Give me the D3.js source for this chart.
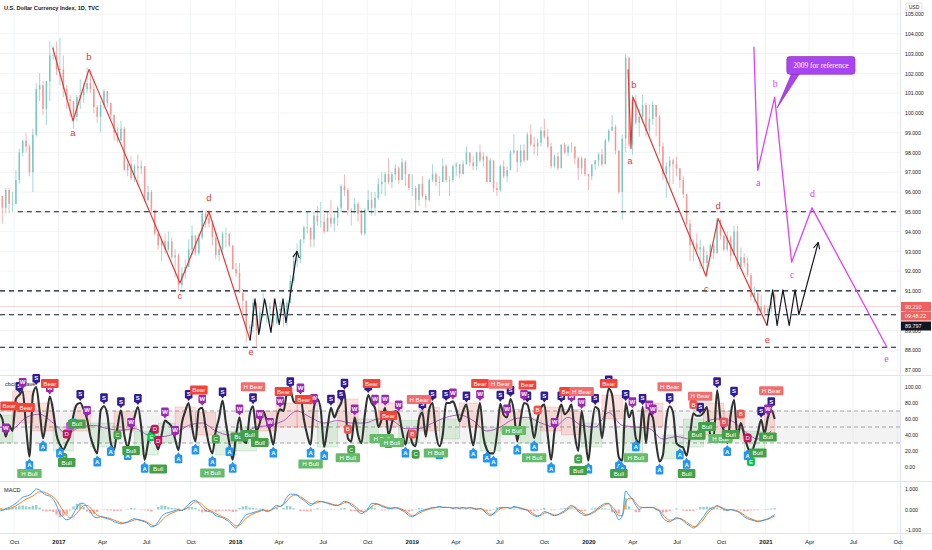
<!DOCTYPE html>
<html>
<head>
<meta charset="utf-8">
<script src="https://cdn.jsdelivr.net/npm/d3@7"></script>
<style>
body { margin: 0; background: #fff; }
svg { display: block; font-family: "Liberation Sans", Arial, sans-serif; }
</style>
</head>
<body>
<svg id="chart" width="932" height="550"></svg>
<script>
// weekly DXY bars, first bar = week ending Fri 2016-09-02
const startWeek = "2016-09-02";
const firstOpen = 95.6;
const weekClose = [
  95.8,95.2,96.1,95.4,95.4,96.6,98.0,98.6,98.3,97.0,98.9,101.2,101.4,100.2,101.6,102.9,102.9,102.2,
  102.2,101.2,100.7,100.6,99.8,100.8,100.9,101.2,101.5,101.2,100.3,99.8,100.4,101.1,100.5,99.9,99.0,98.6,99.2,97.1,97.4,96.7,97.3,97.2,97.3,95.6,96.0,95.1,93.9,93.3,93.5,93.1,93.5,92.7,92.8,91.3,91.9,92.2,93.1,93.8,92.9,93.7,94.9,94.7,94.4,93.7,92.8,93.1,93.9,93.9,93.3,92.1,
  91.9,90.9,90.5,89.1,89.2,90.4,89.0,89.9,89.9,90.1,90.2,89.4,90.0,90.1,89.8,90.4,91.5,92.5,92.6,93.6,94.2,94.2,93.6,94.8,94.5,94.5,94.0,94.7,94.4,94.7,95.2,96.3,96.1,95.1,95.1,95.4,94.9,93.9,95.1,95.6,95.2,95.7,96.4,96.5,96.9,96.5,96.9,97.2,96.6,97.5,96.9,96.2,
  96.2,95.6,96.4,95.8,95.6,96.6,96.9,96.5,96.5,97.3,96.6,96.6,97.3,97.4,96.9,97.4,98.0,97.5,97.3,98.0,97.6,97.8,96.5,97.6,96.2,96.1,97.3,96.8,97.1,98.0,98.1,97.5,98.1,97.6,98.9,98.4,98.3,98.5,99.1,98.8,98.3,97.3,97.8,97.2,98.4,98.0,98.3,98.3,97.7,97.2,97.7,96.9,
  96.8,97.4,97.6,97.9,97.4,98.6,99.1,99.3,98.1,96.0,98.7,102.8,98.4,100.6,99.5,99.8,100.4,99.1,99.7,100.4,99.8,98.3,96.9,97.3,97.6,97.4,97.2,96.6,95.9,94.4,93.3,93.4,93.1,93.2,92.4,92.8,93.3,92.9,94.6,93.8,93.1,93.7,92.8,94.0,92.2,92.7,92.4,91.8,90.7,90.9,90.0,90.2,
  89.9,90.1,90.8,90.2
];
const weekHigh = [
  96.4,95.8,96.2,96.2,96.0,97.1,98.2,98.6,99.0,98.4,99.2,101.5,102.0,101.6,101.6,103.6,103.4,103.6,
  103.8,102.9,101.4,100.9,100.6,100.9,101.7,101.5,102.3,102.2,101.7,100.4,100.6,101.2,101.0,100.5,99.8,99.3,99.6,99.3,97.6,97.8,97.4,97.9,97.6,97.3,96.3,96.1,95.1,94.1,93.7,93.9,94.0,93.7,93.1,92.9,92.2,92.6,93.6,94.3,93.8,93.9,95.1,95.0,95.1,94.5,94.0,93.5,94.0,94.2,93.9,93.3,
  92.4,92.4,91.1,90.5,89.3,90.6,90.4,90.2,90.9,90.4,90.4,90.6,90.2,90.5,90.2,90.5,91.8,92.8,93.4,93.6,94.3,95.0,94.0,95.0,95.3,95.5,94.9,95.0,95.6,94.9,95.3,96.4,96.9,96.2,95.2,95.7,95.5,95.1,95.2,96.1,96.0,96.0,96.7,97.0,97.0,97.7,97.0,97.4,97.3,97.7,97.6,96.9,
  96.9,96.3,96.4,96.8,95.9,96.7,97.4,97.0,96.8,97.7,97.4,96.8,97.4,97.5,97.4,97.6,98.3,98.0,97.8,98.0,98.4,98.0,97.8,97.7,97.6,96.5,97.4,97.6,97.3,98.1,98.9,98.1,98.4,98.4,99.0,99.4,98.8,98.7,99.3,99.7,99.2,98.5,97.9,98.0,98.4,98.5,98.4,98.5,98.3,97.8,97.8,97.7,
  96.9,97.4,97.6,98.0,98.2,98.7,99.2,99.9,99.4,98.1,98.9,103.0,102.8,100.9,100.9,100.2,100.9,100.5,100.4,100.6,100.3,99.9,98.5,97.5,97.8,97.7,97.8,97.2,96.8,95.9,94.6,93.6,93.9,93.6,93.3,93.0,93.4,93.4,94.7,94.2,93.8,94.0,93.8,94.3,94.3,93.2,92.9,92.7,91.9,91.2,90.9,90.8,
  90.3,90.2,90.9,90.9
];
const weekLow = [
  95.3,94.4,94.9,94.9,95.0,95.7,96.4,97.8,98.0,96.8,96.0,98.8,100.6,99.9,99.4,100.6,102.7,101.9,
  101.4,100.8,100.2,99.8,99.2,99.6,100.2,100.5,101.0,101.0,100.0,99.5,99.0,100.2,100.3,99.7,98.6,98.5,98.9,97.1,96.8,96.6,96.5,96.3,96.9,95.5,95.5,94.9,93.8,93.1,92.5,92.9,93.0,92.6,91.7,91.0,91.1,91.6,92.3,92.8,92.8,92.8,93.6,94.2,94.2,93.3,92.6,92.5,92.9,93.2,93.2,92.1,
  91.7,90.9,89.8,88.4,88.5,88.9,88.2,89.0,89.7,89.4,89.4,89.2,89.3,89.7,89.2,89.2,90.5,91.4,92.2,92.4,93.4,93.9,93.2,93.2,94.3,94.2,93.9,94.0,94.2,94.0,94.3,95.0,95.8,94.8,94.3,94.9,94.5,93.8,93.8,95.0,94.8,94.8,95.6,95.9,95.8,96.4,96.2,96.6,96.4,96.7,96.3,96.1,
  95.8,95.0,95.3,95.7,95.2,95.5,96.5,96.3,95.8,96.5,96.5,95.8,96.5,96.8,96.7,96.9,97.4,97.3,97.1,97.1,97.5,97.3,96.5,96.5,96.0,95.8,96.0,96.7,96.5,97.1,97.9,97.0,97.3,97.5,97.7,98.3,97.9,97.8,98.3,98.7,98.2,97.2,97.2,97.1,97.2,97.9,97.8,98.0,97.4,96.6,96.9,96.8,
  96.1,96.6,97.1,97.3,97.3,97.4,98.5,99.1,97.9,95.9,94.6,98.0,98.3,97.9,99.4,98.8,99.5,98.8,98.9,99.4,98.8,97.9,96.6,95.7,96.4,96.4,96.8,96.2,95.7,94.3,92.5,92.5,92.9,92.1,92.1,91.7,92.7,92.6,93.0,93.6,93.0,93.0,92.5,92.8,92.1,92.1,92.2,91.7,90.5,90.4,89.7,89.9,
  89.7,89.2,89.9,90.1
];

// horizontal levels drawn on the chart
const levelPrices = [95.0, 91.0, 89.797, 88.15];
const levelStarts = ["2016-10-09", "2016-08-01", "2016-08-01", "2016-08-01"];
const lastPrice = 90.21;

// wave drawings
const redWave1Dates = ["2016-12-20","2017-01-31","2017-03-05","2017-09-09","2017-11-08","2018-02-01"];
const redWave1Prices = [103.3, 99.6, 102.2, 91.4, 95.0, 88.5];
const redWave2Dates = ["2020-03-23","2020-03-29","2020-04-02","2020-08-31","2020-09-25","2021-01-04"];
const redWave2Prices = [102.2, 98.2, 100.8, 91.75, 94.65, 89.25];
const blackPath1Dates = ["2018-02-01","2018-02-11","2018-02-19","2018-03-03","2018-03-16","2018-03-24","2018-04-02","2018-04-10","2018-04-16","2018-05-09"];
const blackPath1Prices = [88.5, 90.6, 88.8, 90.6, 88.9, 90.6, 89.3, 90.6, 89.4, 93.0];
const blackPath2Dates = ["2021-01-04","2021-01-16","2021-01-25","2021-02-06","2021-02-19","2021-03-03","2021-03-11","2021-04-20"];
const blackPath2Prices = [89.25, 91.05, 89.25, 91.05, 89.25, 91.05, 89.8, 93.45];
const pinkWaveDates = ["2020-12-08","2020-12-16","2021-01-20","2021-02-24","2021-04-07","2021-09-09"];
const pinkWavePrices = [103.35, 97.1, 100.8, 92.45, 95.2, 88.15];

const waveLetters = ["a","b","c","d","e"];
const redLabel1Dates = ["2017-01-31","2017-03-05","2017-09-09","2017-11-08","2018-02-03"];
const redLabel1Prices = [98.98, 102.78, 90.7, 95.65, 87.9];
const redLabel2Dates = ["2020-03-27","2020-04-04","2020-09-01","2020-09-25","2021-01-05"];
const redLabel2Prices = [97.53, 101.41, 91.08, 95.26, 88.48];
const pinkLabelDates = ["2020-12-17","2021-01-21","2021-02-25","2021-04-08","2021-09-08"];
const pinkLabelPrices = [96.44, 101.41, 91.75, 95.85, 87.54];

const noteText = "2009 for reference";
const noteDates = ["2021-02-14", "2021-07-05", "2021-01-25"];   // box left, box right, pointer tip
const notePrices = [102.85, 101.95, 100.25];                    // box top, box bottom, pointer tip

// oscillator pane, one value per week
const osc = [67,60,38,52,45,85,90,95,50,13,90,100,70,36,60,88,70,40,28,22,30,40,65,78,80,72,60,38,25,17,
  70,76,65,30,22,50,71,40,25,45,62,75,50,9,30,48,36,22,40,58,55,50,35,21,55,70,80,50,32,72,
  74,50,28,17,45,62,83,55,30,9,40,62,35,30,65,76,45,55,70,58,45,28,60,72,70,92,96,82,80,88,
  60,40,28,75,85,71,25,50,74,62,72,80,94,36,32,62,40,30,65,90,80,74,50,60,74,40,55,70,67,45,
  28,46,30,26,60,68,38,72,80,42,26,40,80,80,82,72,57,70,78,48,27,55,80,38,22,17,17,40,79,65,
  62,85,70,32,60,80,78,60,36,60,74,78,40,9,45,65,78,66,70,78,40,20,70,40,8,50,75,72,36,70,
  98,90,50,12,8,80,62,71,36,30,75,30,67,62,30,7,15,60,76,68,30,26,24,14,40,67,64,64,68,75,
  40,38,96,60,45,30,65,84,38,55,40,25,17,28,42,59,42,62,71,60];
// purple average, every 4th week
const oscAvg = [50,48,62,66,55,42,50,52,48,46,48,40,38,42,52,55,45,40,42,50,52,58,70,62,55,58,55,55,60,58,
  48,48,55,62,65,58,45,50,60,62,55,50,62,52,50,68,52,50,48,35,38,35,55,60,58,45,35,45];
const zoneStart = [0,4,10,16,22,27,34,40,47,52,58,64,70,76,82,88,94,100,106,112,118,124,130,136,142,148,154,160,166,172,178,184,190,196,202,208,214,220,226];
const zoneEnd = [4,10,16,22,27,34,40,47,52,58,64,70,76,82,88,94,100,106,112,118,124,130,136,142,148,154,160,166,172,178,184,190,196,202,208,214,220,226,229];
const zoneLow = [30,55,45,20,45,25,45,15,30,50,40,15,20,45,50,50,25,50,30,50,30,45,35,50,20,45,30,45,40,25,60,10,50,10,25,40,35,15,40];
const zoneHigh = [65,95,80,50,75,55,70,45,55,75,68,45,50,70,80,85,55,85,60,80,58,75,60,80,50,72,60,75,72,55,90,50,80,40,60,80,70,45,70];
const zoneKind = ["g","r","r","g","r","g","r","g","g","r","r","g","g","r","r","r","g","r","g","r","g","r","g","r","g","r","g","r","r","g","r","g","r","g","g","r","r","g","r"];

const sWeeks = [6,11,24,31,36,41,56,66,75,86,98,101,102,109,125,128,132,138,148,151,156,161,166,176,180,185,190,198,207,212,217,225,228];
const wWeeks = [2,7,15,26,39,49,52,60,71,77,80,83,89,93,105,111,114,118,134,142,150,155,164,169,172,187,192,193,214,227];
const aWeeks = [9,13,18,29,33,38,43,53,58,63,68,69,81,92,96,115,120,130,140,144,146,153,158,163,174,183,184,188,195,201,203,215,221];
const bearWeeks = [3,8,15,59,75,84,90,110,115,124,142,148,156,168,172,180,198,207,228];
const bearTexts = ["Bear","Bear","Bear","Bear","H Bear","Bear","Bear","Bear","Bear","H Bear","Bear","H Bear","Bear","Bear","H Bear","Bear","H Bear","H Bear","H Bear"];
const bullWeeks = [9,20,23,39,47,63,71,74,77,92,103,113,116,129,152,158,171,183,188,203,206,209,213,216,224,227];
const bullTexts = ["H Bull","Bull","Bull","Bull","Bull","H Bull","Bull","Bull","Bull","H Bull","H Bull","H Bull","H Bull","H Bull","H Bull","H Bull","Bull","Bull","H Bull","Bull","Bull","Bull","H Bull","Bull","Bull","Bull"];
const letterWeeks = [19,20,21,22,35,45,46,47,64,103,104,122,123,159,171,205,214,219,221,222];
const letterTexts = ["C","D","F","G","C","E","D","D","C","B","C","B","C","B","C","B","B","B","D","E"];

// MACD pane, one value per week
const macd = [0,-0.05,0.05,0.1,0.2,0.3,0.45,0.6,0.65,0.7,0.85,1.0,0.95,0.8,0.7,0.65,0.5,0.2,-0.2,-0.4,
  -0.5,-0.45,-0.2,0.1,0.3,0.3,0.1,-0.1,-0.35,-0.4,-0.35,-0.4,-0.45,-0.5,-0.6,-0.65,-0.7,-0.65,-0.6,-0.5,
  -0.45,-0.5,-0.55,-0.6,-0.7,-0.85,-0.8,-0.6,-0.35,-0.2,-0.15,-0.1,-0.05,0,-0.05,0.1,0.25,0.4,0.45,0.3,
  0.1,-0.05,-0.1,-0.15,-0.3,-0.35,-0.4,-0.5,-0.6,-0.8,-0.9,-0.7,-0.45,-0.25,-0.2,-0.15,-0.1,-0.05,0,-0.1,
  -0.05,0.1,0.2,0.15,0.3,0.6,0.75,0.75,0.7,0.55,0.45,0.3,0.2,0.3,0.4,0.4,0.35,0.3,0.25,0.2,
  0.2,0.3,0.4,0.35,0.2,0.1,-0.1,-0.2,-0.1,0.05,0.3,0.3,0.25,0.15,0.1,0.05,0.05,0.1,0.05,-0.05,
  -0.15,-0.3,-0.35,-0.25,-0.1,-0.05,0,0.05,0.1,0.1,0.15,0.1,0.1,0.1,0.05,0.1,0.05,0.1,0.05,0.1,
  0.05,0,0.05,-0.05,-0.2,-0.3,-0.2,0,0.1,0.1,0.1,0.05,0.15,0.1,0.05,0,-0.05,-0.2,-0.3,-0.35,
  -0.25,-0.1,-0.15,-0.25,-0.3,-0.25,-0.15,-0.05,0.1,0.2,0.1,-0.1,-0.2,-0.3,-0.25,-0.15,-0.05,0.1,0.2,0.3,
  0.3,0,-0.2,-0.5,-0.3,0.9,0.7,0.5,0.2,0,0.1,0.1,0.1,0.1,0,-0.1,-0.4,-0.55,-0.6,-0.5,
  -0.4,-0.45,-0.55,-0.7,-0.8,-0.9,-0.8,-0.55,-0.35,-0.1,0.05,0.1,0.2,0.1,0,-0.05,0,-0.05,-0.1,-0.2,
  -0.35,-0.45,-0.5,-0.55,-0.6,-0.55,-0.5,-0.45,-0.35,-0.25];
const macdSignal = [0.05,0.02,0,0.03,0.1,0.18,0.28,0.4,0.5,0.58,0.66,0.78,0.86,0.86,0.8,0.72,0.62,0.45,0.18,-0.08,
  -0.28,-0.4,-0.35,-0.18,0.02,0.18,0.2,0.08,-0.12,-0.28,-0.34,-0.37,-0.4,-0.45,-0.52,-0.58,-0.64,-0.66,-0.63,-0.57,
  -0.51,-0.49,-0.52,-0.56,-0.64,-0.75,-0.79,-0.72,-0.55,-0.38,-0.26,-0.18,-0.11,-0.05,-0.04,0.02,0.13,0.27,0.37,0.36,
  0.24,0.08,-0.03,-0.1,-0.2,-0.28,-0.35,-0.43,-0.53,-0.68,-0.8,-0.77,-0.6,-0.42,-0.3,-0.22,-0.15,-0.09,-0.04,-0.06,
  -0.06,0.03,0.12,0.15,0.23,0.42,0.6,0.69,0.71,0.62,0.52,0.4,0.29,0.28,0.34,0.38,0.37,0.33,0.28,0.23,
  0.21,0.25,0.33,0.35,0.28,0.18,0.03,-0.1,-0.12,-0.03,0.15,0.24,0.26,0.2,0.14,0.09,0.07,0.08,0.07,0.01,
  -0.08,-0.2,-0.29,-0.28,-0.18,-0.1,-0.04,0.02,0.07,0.09,0.12,0.11,0.1,0.1,0.07,0.08,0.07,0.08,0.07,0.08,
  0.07,0.03,0.04,0,-0.12,-0.23,-0.22,-0.1,0.04,0.08,0.09,0.07,0.11,0.11,0.08,0.03,-0.02,-0.12,-0.23,-0.3,
  -0.28,-0.18,-0.16,-0.21,-0.27,-0.26,-0.2,-0.11,0.02,0.13,0.12,0,-0.12,-0.23,-0.25,-0.2,-0.11,0.03,0.14,0.24,
  0.28,0.14,-0.05,-0.3,-0.3,0.35,0.55,0.53,0.33,0.13,0.1,0.1,0.1,0.1,0.04,-0.04,-0.25,-0.42,-0.52,-0.51,
  -0.45,-0.44,-0.5,-0.62,-0.73,-0.83,-0.82,-0.67,-0.48,-0.24,-0.05,0.06,0.14,0.12,0.05,-0.01,-0.01,-0.03,-0.07,-0.15,
  -0.27,-0.38,-0.45,-0.51,-0.56,-0.56,-0.52,-0.48,-0.4,-0.31];

const priceTicks = d3.range(87, 106, 1);
const oscTicks = [0, 20, 40, 60, 80, 100];
const macdTicks = [-1, 0, 1];

// ---------------------------------------------------------------
const svg = d3.select("#chart");
const axisX = 900;
const DAY = 864e5;
const week0 = new Date(startWeek).getTime();

const x = d3.scaleUtc()
  .domain([new Date("2017-01-01"), new Date("2021-01-01")])
  .range([58.5, 765.5]);
const y = d3.scaleLinear().domain([87, 105]).range([370, 14]);
const yOsc = d3.scaleLinear().domain([0, 100]).range([467, 387]);
const yMacd = d3.scaleLinear().domain([-1, 1]).range([530, 489]);

const weekX = i => x(new Date(week0 + (i * 7 - 2) * DAY));
const dx = s => x(new Date(s));

const defs = svg.append("defs");
defs.append("clipPath").attr("id", "clipMain").append("rect").attr("x", 0).attr("y", 0).attr("width", axisX).attr("height", 373);
defs.append("clipPath").attr("id", "clipOsc").append("rect").attr("x", 0).attr("y", 377).attr("width", axisX).attr("height", 104);
defs.append("clipPath").attr("id", "clipMacd").append("rect").attr("x", 0).attr("y", 482).attr("width", axisX).attr("height", 51);
defs.append("marker").attr("id", "arrow")
  .attr("viewBox", "0 0 10 10").attr("refX", 9).attr("refY", 5)
  .attr("markerWidth", 8).attr("markerHeight", 8)
  .attr("markerUnits", "userSpaceOnUse").attr("orient", "auto")
  .append("path").attr("d", "M1,1 L9,5 L1,9")
  .attr("fill", "none").attr("stroke", "#131722").attr("stroke-width", 1.4);

// grid
const timeTicks = d3.utcMonth.every(3).range(new Date("2016-10-01"), new Date("2021-10-02"));
const grid = svg.append("g").attr("stroke", "#f3f4f8").attr("stroke-width", 1);
timeTicks.forEach(t => {
  grid.append("line").attr("x1", x(t)).attr("x2", x(t)).attr("y1", 0).attr("y2", 533);
});
priceTicks.forEach(p => {
  grid.append("line").attr("x1", 0).attr("x2", axisX).attr("y1", y(p)).attr("y2", y(p));
});

// pane borders
const borders = svg.append("g").attr("stroke", "#e0e3eb").attr("stroke-width", 1);
[375.5, 481.5, 533.5].forEach(v => borders.append("line").attr("x1", 0).attr("x2", 932).attr("y1", v).attr("y2", v));
borders.append("line").attr("x1", axisX + 0.5).attr("x2", axisX + 0.5).attr("y1", 0).attr("y2", 550);

// title
svg.append("text").attr("x", 4).attr("y", 10)
  .attr("font-size", 5.6).attr("font-weight", 700).attr("fill", "#131722")
  .text("U.S. Dollar Currency Index, 1D, TVC");

// ---------------- main pane ----------------
const main = svg.append("g").attr("clip-path", "url(#clipMain)");

// last price line
main.append("line").attr("x1", 0).attr("x2", axisX)
  .attr("y1", y(lastPrice)).attr("y2", y(lastPrice))
  .attr("stroke", "#ef5350").attr("stroke-opacity", 0.3).attr("stroke-width", 0.8);

// candles
const bars = weekClose.map((c, i) => {
  const o = i ? weekClose[i - 1] : firstOpen;
  return { i, o, c, h: Math.max(weekHigh[i], o, c), l: Math.min(weekLow[i], o, c) };
});
const candle = main.append("g").selectAll("g").data(bars).join("g")
  .attr("opacity", 0.6)
  .attr("stroke", d => d.c >= d.o ? "#26a69a" : "#ef5350")
  .attr("fill", d => d.c >= d.o ? "#26a69a" : "#ef5350");
candle.append("line")
  .attr("x1", d => weekX(d.i)).attr("x2", d => weekX(d.i))
  .attr("y1", d => y(d.h)).attr("y2", d => y(d.l))
  .attr("stroke-width", 0.7);
candle.append("rect")
  .attr("x", d => weekX(d.i) - 0.75).attr("width", 1.5)
  .attr("y", d => y(Math.max(d.o, d.c)))
  .attr("height", d => Math.max(0.6, Math.abs(y(d.o) - y(d.c))))
  .attr("stroke", "none");

// dashed levels
levelPrices.forEach((p, k) => {
  main.append("line")
    .attr("x1", Math.max(0, dx(levelStarts[k]))).attr("x2", axisX)
    .attr("y1", y(p)).attr("y2", y(p))
    .attr("stroke", "#131722").attr("stroke-width", 1.1).attr("stroke-dasharray", "5,4");
});

const line = d3.line().x(d => dx(d[0])).y(d => y(d[1]));
function drawPath(dates, prices, color, width, arrow) {
  const p = main.append("path")
    .datum(dates.map((d, k) => [d, prices[k]]))
    .attr("d", line).attr("fill", "none")
    .attr("stroke", color).attr("stroke-width", width).attr("stroke-linejoin", "round");
  if (arrow) p.attr("marker-end", "url(#arrow)");
}
drawPath(redWave1Dates, redWave1Prices, "#e53935", 1.2, false);
drawPath(redWave2Dates, redWave2Prices, "#e53935", 1.2, false);
drawPath(blackPath1Dates, blackPath1Prices, "#131722", 1.2, true);
drawPath(blackPath2Dates, blackPath2Prices, "#131722", 1.2, true);
drawPath(pinkWaveDates, pinkWavePrices, "#e040fb", 1.3, false);

function drawLabels(dates, prices, color, family, size) {
  main.append("g").selectAll("text").data(waveLetters).join("text")
    .attr("x", (d, k) => dx(dates[k])).attr("y", (d, k) => y(prices[k]))
    .attr("text-anchor", "middle").attr("dominant-baseline", "middle")
    .attr("font-family", family).attr("font-size", size).attr("fill", color)
    .text(d => d);
}
drawLabels(redLabel1Dates, redLabel1Prices, "#e53935", "Liberation Sans, Arial, sans-serif", 9.5);
drawLabels(redLabel2Dates, redLabel2Prices, "#e53935", "Liberation Sans, Arial, sans-serif", 9.5);
drawLabels(pinkLabelDates, pinkLabelPrices, "#e040fb", "Liberation Serif, Times New Roman, serif", 10);

// callout
const bx0 = dx(noteDates[0]), bx1 = dx(noteDates[1]);
const by0 = y(notePrices[0]), by1 = y(notePrices[1]);
main.append("path")
  .attr("d", `M${bx0 + 5},${by1 - 1} L${bx0 + 13},${by1 - 1} L${dx(noteDates[2])},${y(notePrices[2])} Z`)
  .attr("fill", "#a845f2").attr("stroke", "#8e24aa").attr("stroke-width", 0.6);
main.append("rect").attr("x", bx0).attr("y", by0).attr("width", bx1 - bx0).attr("height", by1 - by0)
  .attr("rx", 3).attr("fill", "#a845f2").attr("stroke", "#8e24aa").attr("stroke-width", 0.6);
main.append("text").attr("x", (bx0 + bx1) / 2).attr("y", (by0 + by1) / 2 + 0.5)
  .attr("text-anchor", "middle").attr("dominant-baseline", "middle")
  .attr("font-family", "Liberation Serif, Times New Roman, serif").attr("font-size", 7.5)
  .attr("fill", "#fff").text(noteText);

// price axis
const pAxis = svg.append("g").attr("transform", `translate(${axisX + 4},0)`)
  .call(d3.axisRight(y).tickValues(priceTicks).tickFormat(d3.format(".3f")).tickSize(0).tickPadding(1));
pAxis.select(".domain").remove();
pAxis.selectAll("text").attr("font-size", 5.2).attr("fill", "#131722").attr("font-family", "Liberation Sans, Arial, sans-serif");

svg.append("rect").attr("x", 906).attr("y", 3).attr("width", 16).attr("height", 8).attr("rx", 1.5)
  .attr("fill", "#fff").attr("stroke", "#c9ccd6").attr("stroke-width", 0.6);
svg.append("text").attr("x", 914).attr("y", 9).attr("text-anchor", "middle")
  .attr("font-size", 5).attr("fill", "#131722").text("USD");

// price tags
const tags = [
  { t: d3.format(".3f")(lastPrice), c: "#f0605d", dy: 0 },
  { t: "09:48:22", c: "#f0605d", dy: 9.5 },
  { t: d3.format(".3f")(levelPrices[2]), c: "#131722", dy: 19.5 }
];
tags.forEach(tg => {
  const yy = y(lastPrice) + tg.dy;
  svg.append("rect").attr("x", axisX + 1).attr("y", yy - 4.5).attr("width", 30).attr("height", 9).attr("fill", tg.c);
  svg.append("text").attr("x", axisX + 5).attr("y", yy + 2).attr("font-size", 5.4)
    .attr("fill", "#fff").text(tg.t);
});

// ---------------- oscillator pane ----------------
const op = svg.append("g").attr("clip-path", "url(#clipOsc)");
op.append("rect").attr("x", 0).attr("width", axisX)
  .attr("y", yOsc(70)).attr("height", yOsc(30) - yOsc(70))
  .attr("fill", "#787b86").attr("fill-opacity", 0.09);
[70, 50, 30].forEach(v => {
  op.append("line").attr("x1", 0).attr("x2", axisX).attr("y1", yOsc(v)).attr("y2", yOsc(v))
    .attr("stroke", "#8a8d96").attr("stroke-width", 0.8).attr("stroke-dasharray", "4,3");
});
op.append("g").selectAll("rect").data(zoneStart).join("rect")
  .attr("x", (d, k) => weekX(d)).attr("width", (d, k) => weekX(zoneEnd[k]) - weekX(d))
  .attr("y", (d, k) => yOsc(zoneHigh[k])).attr("height", (d, k) => yOsc(zoneLow[k]) - yOsc(zoneHigh[k]))
  .attr("fill", (d, k) => zoneKind[k] === "r" ? "#f44336" : "#4caf50").attr("fill-opacity", 0.16)
  .attr("stroke", (d, k) => zoneKind[k] === "r" ? "#f44336" : "#4caf50").attr("stroke-opacity", 0.3).attr("stroke-width", 0.6);

op.append("path").datum(oscAvg)
  .attr("d", d3.line().x((d, k) => weekX(k * 4)).y(d => yOsc(d)).curve(d3.curveMonotoneX))
  .attr("fill", "none").attr("stroke", "#ab47bc").attr("stroke-width", 0.9);
op.append("path").datum(osc)
  .attr("d", d3.line().x((d, k) => weekX(k)).y(d => yOsc(d)).curve(d3.curveMonotoneX))
  .attr("fill", "none").attr("stroke", "#2f3330").attr("stroke-width", 2.1);

svg.append("text").attr("x", 5).attr("y", 386).attr("font-size", 5.6)
  .attr("fill", "#131722").text("cbci + Wave");

const mk = svg.append("g").attr("font-family", "Liberation Sans, Arial, sans-serif").attr("font-weight", 700);
function square(i, letter, color, above) {
  const cx = weekX(i), py = yOsc(osc[i]);
  const g = mk.append("g").attr("transform", `translate(${cx},${py})`);
  if (above) {
    g.append("path").attr("d", "M0,-2 L-2.3,-5 L2.3,-5 Z").attr("fill", color);
    g.append("rect").attr("x", -3.8).attr("y", -13).attr("width", 7.6).attr("height", 8.5).attr("rx", 1.2).attr("fill", color);
    g.append("text").attr("y", -6.6).attr("text-anchor", "middle").attr("font-size", 6).attr("fill", "#fff").text(letter);
  } else {
    g.append("path").attr("d", "M0,2 L-2.3,5 L2.3,5 Z").attr("fill", color);
    g.append("rect").attr("x", -3.8).attr("y", 4.5).attr("width", 7.6).attr("height", 8.5).attr("rx", 1.2).attr("fill", color);
    g.append("text").attr("y", 10.9).attr("text-anchor", "middle").attr("font-size", 6).attr("fill", "#fff").text(letter);
  }
}
function tag(i, text, color, top) {
  const w = text.length * 3.4 + 4;
  const cx = weekX(i);
  mk.append("rect").attr("x", cx - w / 2).attr("y", top).attr("width", w).attr("height", 9)
    .attr("rx", 1.2).attr("fill", color);
  mk.append("text").attr("x", cx).attr("y", top + 6.6).attr("text-anchor", "middle")
    .attr("font-size", 6.2).attr("font-weight", 400).attr("fill", "#fff").text(text);
}
const letterColor = { B: "#ef5350", C: "#43a047", D: "#c2185b", E: "#00c853", F: "#e040fb", G: "#00bcd4" };

sWeeks.forEach(w => square(w, "S", "#311b92", true));
wWeeks.forEach(w => square(w, "W", "#9c27b0", true));
bearWeeks.forEach((w, k) => {
  const top = Math.max(379, yOsc(osc[w]) - 24);
  tag(w, bearTexts[k], bearTexts[k] === "Bear" ? "#f44336" : "#f26d6d", top);
});
letterWeeks.forEach((w, k) => {
  const t = letterTexts[k];
  const up = t === "B" || t === "D" || t === "F";
  const cy = yOsc(osc[w]) + (up ? -9 : 8);
  mk.append("rect").attr("x", weekX(w) - 4).attr("y", cy - 4.5).attr("width", 8).attr("height", 9)
    .attr("rx", 2.5).attr("fill", letterColor[t]);
  mk.append("text").attr("x", weekX(w)).attr("y", cy + 2.2).attr("text-anchor", "middle")
    .attr("font-size", 6).attr("font-weight", 400).attr("fill", "#fff").text(t);
});
aWeeks.forEach(w => square(w, "A", "#2196f3", false));
bullWeeks.forEach((w, k) => {
  const top = Math.min(469, yOsc(osc[w]) + 15);
  tag(w, bullTexts[k], bullTexts[k] === "Bull" ? "#43a047" : "#66bb6a", top);
});

const oAxis = svg.append("g").attr("transform", `translate(${axisX + 4},0)`)
  .call(d3.axisRight(yOsc).tickValues(oscTicks).tickFormat(d3.format(".2f")).tickSize(0).tickPadding(1));
oAxis.select(".domain").remove();
oAxis.selectAll("text").attr("font-size", 5.2).attr("fill", "#131722");

// ---------------- MACD pane ----------------
const mp = svg.append("g").attr("clip-path", "url(#clipMacd)");
mp.append("g").selectAll("rect").data(macd).join("rect")
  .attr("x", (d, k) => weekX(k) - 1.2).attr("width", 2.4)
  .attr("y", (d, k) => Math.min(yMacd(0), yMacd(d - macdSignal[k])))
  .attr("height", (d, k) => Math.abs(yMacd(d - macdSignal[k]) - yMacd(0)))
  .attr("fill", (d, k) => d - macdSignal[k] >= 0 ? "#26a69a" : "#ef5350")
  .attr("fill-opacity", 0.5);
mp.append("path").datum(macdSignal)
  .attr("d", d3.line().x((d, k) => weekX(k)).y(d => yMacd(d)).curve(d3.curveMonotoneX))
  .attr("fill", "none").attr("stroke", "#ff6d00").attr("stroke-width", 0.9);
mp.append("path").datum(macd)
  .attr("d", d3.line().x((d, k) => weekX(k)).y(d => yMacd(d)).curve(d3.curveMonotoneX))
  .attr("fill", "none").attr("stroke", "#2196f3").attr("stroke-width", 0.9);
svg.append("text").attr("x", 4).attr("y", 492).attr("font-size", 5.6).attr("fill", "#131722").text("MACD");

const mAxis = svg.append("g").attr("transform", `translate(${axisX + 4},0)`)
  .call(d3.axisRight(yMacd).tickValues(macdTicks).tickFormat(d3.format(".3f")).tickSize(0).tickPadding(1));
mAxis.select(".domain").remove();
mAxis.selectAll("text").attr("font-size", 5.2).attr("fill", "#131722");

// ---------------- time axis ----------------
const tAxis = svg.append("g").attr("transform", "translate(0,536)")
  .call(d3.axisBottom(x).tickValues(timeTicks).tickSize(0).tickPadding(4)
    .tickFormat(d => d.getUTCMonth() === 0 ? d3.utcFormat("%Y")(d) : d3.utcFormat("%b")(d)));
tAxis.select(".domain").remove();
tAxis.selectAll("text").attr("font-size", 6).attr("fill", "#131722")
  .attr("font-weight", d => d.getUTCMonth() === 0 ? 700 : 400);
</script>
</body>
</html>
